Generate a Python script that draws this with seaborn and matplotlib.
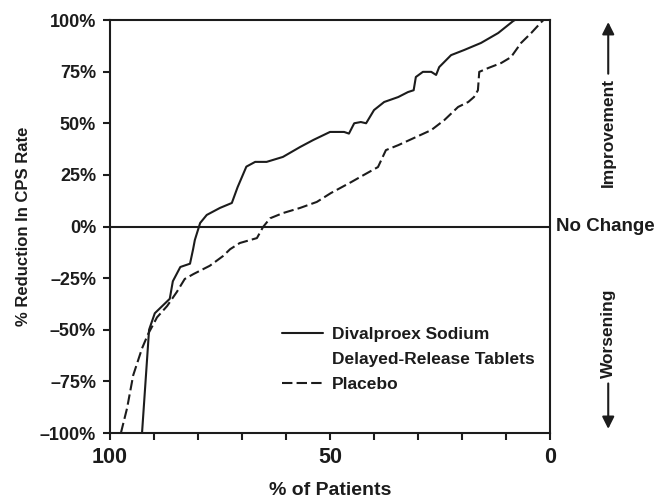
#!/usr/bin/env python3
# plot.py - % reduction in CPS rate vs % of patients (Divalproex vs Placebo)

import pandas as pd
import matplotlib
matplotlib.use('Agg')
import matplotlib.pyplot as plt
from matplotlib.lines import Line2D
import seaborn as sns

# Data
div_pct = [92.7, 91.1, 89.8, 86.4, 85.7, 84.0, 81.8, 81.1, 80.7, 79.5, 78.0, 75.0,
           72.3, 71.0, 69.0, 67.0, 64.4, 60.7, 56.8, 53.8, 50.0, 46.8, 45.7, 44.5,
           43.0, 41.8, 40.0, 37.7, 34.5, 32.3, 31.0, 30.5, 28.9, 27.0, 25.9, 25.2,
           22.5, 19.5, 15.7, 11.8, 8.4, 8.0]
div_red = [-100, -50, -42, -35, -26.5, -19.6, -18, -11, -6.5, 1.7, 5.6, 9,
           11.4, 19, 29, 31.3, 31.3, 33.7, 38.5, 41.9, 45.8, 45.8, 45, 50,
           50.6, 50, 56.4, 60.3, 62.7, 65.1, 66, 72.4, 74.9, 74.9, 73.4, 77.2,
           83, 85.5, 88.9, 93.7, 99.5, 100]

pla_pct = [97.5, 96.1, 94.7, 92.7, 91.3, 89.3, 87.0, 84.8, 83.0, 81.0, 77.3, 74.3,
           72.7, 70.5, 66.6, 65.2, 63.6, 60.7, 56.8, 53.0, 49.8, 45.2, 42.3, 39.1,
           37.3, 34.5, 30.9, 27.0, 24.0, 20.9, 18.6, 17.3, 16.4, 16.1, 14.0, 11.1,
           8.9, 6.6, 4.3, 2.0, 1.5]
pla_red = [-100, -88, -72, -59, -52, -44, -38.5, -31.7, -25.4, -23, -19, -14.3,
           -11, -8, -5.6, -0.2, 4, 6.5, 9, 11.9, 16.2, 21.5, 25, 28.8,
           37, 39.4, 42.9, 46.7, 51.6, 57.9, 60.3, 62.7, 66, 74.9, 76.8, 79.2,
           82, 88.9, 93.7, 99, 100]

y_ticks = [-100, -75, -50, -25, 0, 25, 50, 75, 100]
y_labels = ['\u2013100%', '\u201375%', '\u201350%', '\u201325%', '0%', '25%', '50%', '75%', '100%']
x_ticks = [100, 90, 80, 70, 60, 50, 40, 30, 20, 10, 0]
x_labels = ['100', '', '', '', '', '50', '', '', '', '', '0']

sns.set_style('ticks')
plt.rcParams['font.family'] = ['Liberation Sans', 'DejaVu Sans']
plt.rcParams['font.weight'] = 'bold'
INK = '#1c1c1c'

df_div = pd.DataFrame({'pct': div_pct, 'red': div_red})
df_pla = pd.DataFrame({'pct': pla_pct, 'red': pla_red})

fig = plt.figure(figsize=(6.62, 4.98), dpi=100)
ax = fig.add_axes([0.166, 0.1305, 0.665, 0.8293])

sns.lineplot(data=df_div, x='pct', y='red', ax=ax, sort=False, estimator=None,
             color=INK, linewidth=1.5)
sns.lineplot(data=df_pla, x='pct', y='red', ax=ax, sort=False, estimator=None,
             color=INK, linewidth=1.5, linestyle=(0, (5, 2)))

ax.axhline(0, color=INK, lw=1.5)

ax.set_xlim(100, 0)
ax.set_ylim(-100, 100)
ax.set_yticks(y_ticks)
ax.set_yticklabels(y_labels, fontsize=13, fontweight='bold', color=INK)
ax.set_xticks(x_ticks)
ax.set_xticklabels(x_labels, fontsize=15.5, fontweight='bold', color=INK)
ax.tick_params(axis='y', length=5, width=1.5, pad=5, color=INK)
ax.tick_params(axis='x', length=5, width=1.5, pad=5, color=INK)

for sp in ax.spines.values():
    sp.set_visible(True)
    sp.set_linewidth(1.5)
    sp.set_color(INK)

ax.set_xlabel('% of Patients', fontsize=14, fontweight='bold', color=INK, labelpad=10)
ax.set_ylabel('% Reduction In CPS Rate', fontsize=12, fontweight='bold', color=INK, labelpad=6)

# right-side annotations
tr = ax.get_yaxis_transform()
ax.text(1.014, 0, 'No Change', transform=tr, fontsize=13.5, fontweight='bold',
        color=INK, ha='left', va='center')
ax.text(1.132, 19, 'Improvement', transform=tr, rotation=90, fontsize=12.5,
        fontweight='bold', color=INK, ha='center', va='bottom')
ax.text(1.132, -30, 'Worsening', transform=tr, rotation=90, fontsize=12.5,
        fontweight='bold', color=INK, ha='center', va='top')
arrow = dict(arrowstyle='-|>', color=INK, lw=1.5, mutation_scale=18,
             shrinkA=0, shrinkB=0)
ax.annotate('', xy=(1.132, 99), xytext=(1.132, 74), xycoords=tr,
            arrowprops=arrow, annotation_clip=False)
ax.annotate('', xy=(1.132, -98), xytext=(1.132, -76), xycoords=tr,
            arrowprops=arrow, annotation_clip=False)

# legend: blank handle for the second line of the Divalproex label
lines = ax.get_lines()
blank = Line2D([], [], color='none')
ax.legend([lines[0], blank, lines[1]],
          ['Divalproex Sodium', 'Delayed-Release Tablets', 'Placebo'],
          loc='upper left', bbox_to_anchor=(0.39, 0.256), frameon=False,
          borderpad=0, borderaxespad=0, handlelength=2.4, handletextpad=0.5,
          labelspacing=0.56, prop={'size': 12.5, 'weight': 'bold'},
          labelcolor=INK)

plt.savefig('out.png', dpi=100)
